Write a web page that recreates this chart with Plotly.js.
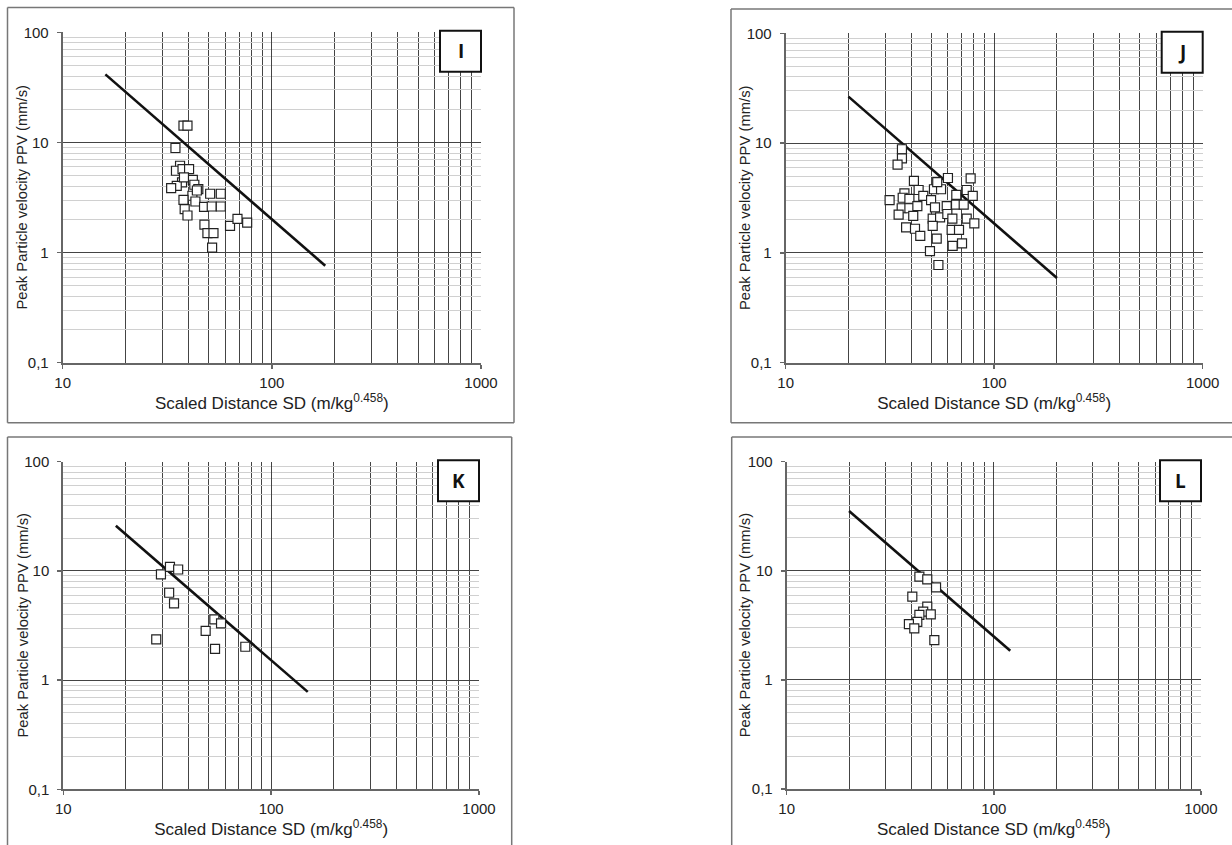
<!DOCTYPE html>
<html>
<head>
<meta charset="utf-8">
<script src="https://cdn.plot.ly/plotly-3.0.1.min.js"></script>
<style>html,body{margin:0;padding:0;background:#fff;}#chart{width:1232px;height:845px;}</style>
</head>
<body>
<div id="chart"></div>
<script>
// ---------- DATA ----------
const panelNames = ["I", "J", "K", "L"];

const sdI  = [37.8, 39.5, 34.6, 36.4, 34.8, 37.4, 40.2, 41.9, 37.2, 35.1, 33.0, 42.6, 44.5, 41.7, 37.8, 43.1, 50.7, 57.0, 38.3, 39.5, 47.4, 51.6, 57.0, 47.6, 63.1, 68.5, 76.2, 49.2, 52.6, 51.8, 38.0, 43.8];
const ppvI = [14.2, 14.2, 8.9, 6.14, 5.53, 5.73, 5.73, 4.58, 4.33, 4.04, 3.85, 4.13, 3.77, 3.28, 3.01, 2.91, 3.42, 3.42, 2.48, 2.17, 2.60, 2.62, 2.62, 1.79, 1.75, 2.02, 1.87, 1.50, 1.50, 1.11, 4.81, 3.66];
const fitSdI  = [16, 180];
const fitPpvI = [41.5, 0.76];

const sdJ  = [36.1, 36.1, 34.4, 31.5, 41.2, 37.1, 36.4, 43.4, 39.2, 45.7, 36.0, 39.2, 42.8, 34.8, 40.9, 37.8, 41.7, 44.2, 51.4, 55.6, 53.3, 60.0, 49.8, 52.0, 59.2, 65.8, 65.6, 71.4, 77.1, 73.8, 78.9, 50.7, 55.0, 50.7, 59.6, 63.0, 53.0, 62.5, 67.8, 63.2, 70.1, 73.8, 80.3, 49.2, 54.0];
const ppvJ = [8.79, 7.27, 6.36, 3.03, 4.52, 3.49, 3.18, 3.74, 3.10, 3.30, 2.55, 2.55, 2.67, 2.23, 2.17, 1.71, 1.66, 1.43, 3.80, 3.80, 4.42, 4.81, 3.03, 2.60, 2.67, 3.37, 2.75, 2.75, 4.78, 3.74, 3.30, 2.05, 2.11, 1.76, 2.26, 2.05, 1.35, 1.62, 1.62, 1.16, 1.22, 2.05, 1.86, 1.04, 0.776];
const fitSdJ  = [20, 200];
const fitPpvJ = [26.5, 0.59];

const sdK  = [29.5, 32.6, 35.7, 32.3, 34.1, 28.0, 48.4, 53.3, 57.4, 53.7, 75.1];
const ppvK = [9.31, 10.9, 10.3, 6.31, 5.05, 2.36, 2.82, 3.60, 3.31, 1.93, 2.02];
const fitSdK  = [17.9, 150];
const fitPpvK = [25.9, 0.78];

const sdL  = [43.7, 47.7, 52.6, 40.4, 47.7, 45.6, 43.7, 49.6, 42.7, 38.9, 41.3, 51.6];
const ppvL = [8.83, 8.36, 7.06, 5.79, 4.69, 4.22, 3.94, 3.99, 3.41, 3.25, 2.97, 2.32];
const fitSdL  = [20, 120];
const fitPpvL = [35.3, 1.85];

const xTickVals = [10, 100, 1000];
const xTickText = ["10", "100", "1000"];
const xMinorVals = [20, 30, 40, 50, 60, 70, 80, 90, 200, 300, 400, 500, 600, 700, 800, 900];
const yTickVals = [0.1, 1, 10, 100];
const yTickText = ["0,1", "1", "10", "100"];
const yMinorVals = [0.2, 0.3, 0.4, 0.5, 0.6, 0.7, 0.8, 0.9, 2, 3, 4, 5, 6, 7, 8, 9, 20, 30, 40, 50, 60, 70, 80, 90];
const xTitle = "Scaled Distance SD (m/kg<sup>0.458</sup>)";
const yTitle = "Peak Particle velocity PPV (mm/s)";

// ---------- BUILD ----------
const W = 1232, H = 845;
const px = v => v / W;
const py = v => 1 - v / H;

const series = [
  {sd: sdI, ppv: ppvI, fx: fitSdI, fy: fitPpvI},
  {sd: sdJ, ppv: ppvJ, fx: fitSdJ, fy: fitPpvJ},
  {sd: sdK, ppv: ppvK, fx: fitSdK, fy: fitPpvK},
  {sd: sdL, ppv: ppvL, fx: fitSdL, fy: fitPpvL}
];
// plot areas in pixels [left, right, top, bottom]
const areas = [
  [62.7, 481, 32.3, 362.7],
  [785.7, 1202.7, 33.3, 362.7],
  [63.3, 479, 461.7, 789.3],
  [786.7, 1201, 461.7, 789]
];
// horizontal pixel centre of each y-axis title
const yTitleX = [22, 745, 22, 745];

const FONT = "Liberation Sans, Arial, sans-serif";
const traces = [];
const layout = {
  width: W, height: H,
  margin: {l: 0, r: 0, t: 0, b: 0},
  paper_bgcolor: "#fff", plot_bgcolor: "#fff",
  showlegend: false,
  font: {family: FONT, color: "#222"},
  shapes: [], annotations: []
};

series.forEach((s, i) => {
  const n = i === 0 ? "" : String(i + 1);
  const xa = "x" + n, ya = "y" + n;
  traces.push({
    x: s.fx, y: s.fy, xaxis: xa, yaxis: ya, type: "scatter", mode: "lines",
    line: {color: "#111", width: 2.6}, hoverinfo: "skip"
  });
  traces.push({
    x: s.sd, y: s.ppv, xaxis: xa, yaxis: ya, type: "scatter", mode: "markers",
    marker: {symbol: "square", size: 9, color: "#fff", line: {color: "#222", width: 1.2}}
  });
  const a = areas[i];
  layout["xaxis" + n] = {
    type: "log", range: [1, 3], domain: [px(a[0]), px(a[1])], anchor: ya,
    tickmode: "array", tickvals: xTickVals, ticktext: xTickText,
    showgrid: true, gridcolor: "#444", gridwidth: 1,
    minor: {tickmode: "array", tickvals: xMinorVals, showgrid: true, gridcolor: "#444", gridwidth: 1, ticks: ""},
    showline: true, linecolor: "#666", linewidth: 2,
    ticks: "outside", ticklen: 4, tickcolor: "#666", tickwidth: 1.5,
    zeroline: false, ticklabelstandoff: 1,
    tickfont: {family: FONT, size: 15, color: "#222"},
    title: {text: xTitle, font: {family: FONT, size: 17, color: "#222"}, standoff: 6}
  };
  layout["yaxis" + n] = {
    type: "log", range: [-1, 2], domain: [py(a[3]), py(a[2])], anchor: xa,
    tickmode: "array", tickvals: yTickVals, ticktext: yTickText,
    showgrid: true, gridcolor: "#444", gridwidth: 1,
    minor: {tickmode: "array", tickvals: yMinorVals, showgrid: true, gridcolor: "#d0d0d0", gridwidth: 1, ticks: ""},
    showline: true, linecolor: "#666", linewidth: 2,
    ticks: "outside", ticklen: 4, tickcolor: "#666", tickwidth: 1.5,
    zeroline: false, ticklabelstandoff: 5,
    tickfont: {family: FONT, size: 15, color: "#222"}
  };
  // y-axis title
  layout.annotations.push({
    xref: "paper", yref: "paper", x: px(yTitleX[i]), y: py((a[2] + a[3]) / 2),
    xanchor: "center", yanchor: "middle", showarrow: false, textangle: -90,
    text: yTitle, font: {family: FONT, size: 14.8, color: "#222"}
  });
  // panel letter box
  layout.shapes.push({
    type: "rect", xref: "paper", yref: "paper", layer: "above",
    x0: px(a[1] - 41), x1: px(a[1]), y0: py(a[2] - 1.5 + 41), y1: py(a[2] - 1.5),
    fillcolor: "#fff", line: {color: "#111", width: 2}
  });
  layout.annotations.push({
    xref: "paper", yref: "paper", x: px(a[1] - 20.5), y: py(a[2] - 1.5 + 20.5),
    xanchor: "center", yanchor: "middle", showarrow: false,
    text: "<b>" + panelNames[i] + "</b>",
    font: {family: "Open Sans, Liberation Sans, sans-serif", size: 19, color: "#111"}
  });
});

// outer panel frames
const frameLine = {color: "#777", width: 1.5};
function seg(x0, y0, x1, y1) {
  layout.shapes.push({type: "line", xref: "paper", yref: "paper",
    x0: px(x0), y0: py(y0), x1: px(x1), y1: py(y1), line: frameLine});
}
// I
seg(7.5, 7.5, 514, 7.5); seg(514, 7.5, 514, 422.7); seg(514, 422.7, 7.5, 422.7); seg(7.5, 422.7, 7.5, 7.5);
// J
seg(731, 9, 1232, 9); seg(731, 9, 731, 422.7); seg(731, 422.7, 1232, 422.7);
// K
seg(7.5, 437, 511.7, 437); seg(7.5, 437, 7.5, 845); seg(511.7, 437, 511.7, 845);
// L
seg(731.7, 437, 1232, 437); seg(731.7, 437, 731.7, 845);

Plotly.newPlot("chart", traces, layout, {displayModeBar: false, staticPlot: true});
</script>
</body>
</html>
